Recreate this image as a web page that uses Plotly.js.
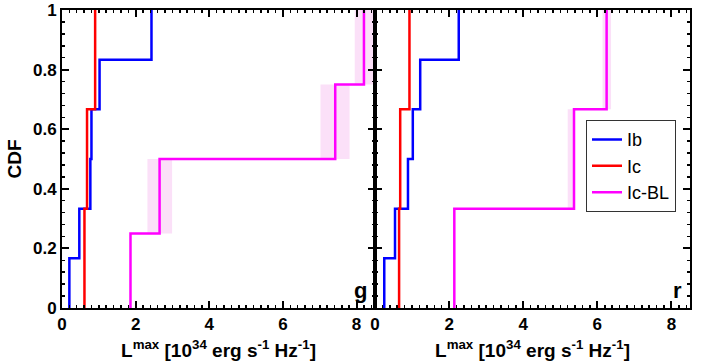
<!DOCTYPE html>
<html>
<head>
<meta charset="utf-8">
<script src="https://cdn.plot.ly/plotly-3.0.1.min.js"></script>
<style>
  html, body { margin: 0; padding: 0; background: #fff; }
  #chart { width: 708px; height: 361px; }
</style>
</head>
<body>
<div id="chart"></div>
<script>
// CDF of peak luminosity, g band (left) and r band (right)

// g band: sorted L_max values and CDF levels
var gIb = [0.20, 0.47, 0.77, 0.80, 1.02, 2.43];
var gIbCdf = [0.167, 0.333, 0.5, 0.667, 0.833, 1];
var gIc = [0.61, 0.68, 0.90];
var gIcCdf = [0.333, 0.667, 1];
var gIcBL = [1.86, 2.65, 7.42, 8.20];
var gIcBLCdf = [0.25, 0.5, 0.75, 1];

// r band
var rIb = [0.25, 0.54, 0.89, 1.02, 1.22, 2.26];
var rIbCdf = [0.167, 0.333, 0.5, 0.667, 0.833, 1];
var rIc = [0.65, 0.68, 0.93];
var rIcCdf = [0.333, 0.667, 1];
var rIcBL = [2.14, 5.37, 6.25];
var rIcBLCdf = [0.333, 0.667, 1];

// shaded uncertainty bands for Ic-BL
var gBandLo = [2.32, 7.02, 7.95];
var gBandHi = [2.99, 7.81, 8.47];
var gBandY0 = [0.25, 0.5, 0.75];
var gBandY1 = [0.5, 0.75, 1];
var rBandLo = [5.20, 6.14];
var rBandHi = [5.37, 6.37];
var rBandY0 = [0.333, 0.667];
var rBandY1 = [0.667, 1];

var names = ["Ib", "Ic", "Ic-BL"];
var colors = ["#0000ff", "#ff0000", "#ff00ff"];

function stepTrace(vals, cdf, idx, xa, ya, showleg) {
    // start the step at zero on the first value
    var x = [vals[0]].concat(vals);
    var y = [0].concat(cdf);
    return {
        x: x, y: y, xaxis: xa, yaxis: ya,
        type: "scatter", mode: "lines",
        line: { color: colors[idx], width: 2.5, shape: "hv" },
        name: names[idx], showlegend: showleg
    };
}

var data = [
    stepTrace(gIb, gIbCdf, 0, "x", "y", false),
    stepTrace(gIc, gIcCdf, 1, "x", "y", false),
    stepTrace(gIcBL, gIcBLCdf, 2, "x", "y", false),
    stepTrace(rIb, rIbCdf, 0, "x2", "y2", true),
    stepTrace(rIc, rIcCdf, 1, "x2", "y2", true),
    stepTrace(rIcBL, rIcBLCdf, 2, "x2", "y2", true)
];

var shapes = [];
function addBands(lo, hi, y0, y1, xr, yr) {
    for (var i = 0; i < lo.length; i++) {
        shapes.push({
            type: "rect", xref: xr, yref: yr, layer: "below",
            x0: lo[i], x1: hi[i], y0: y0[i], y1: y1[i],
            fillcolor: "#fbe0f8", line: { width: 0 }
        });
    }
}
addBands(gBandLo, gBandHi, gBandY0, gBandY1, "x", "y");
addBands(rBandLo, rBandHi, rBandY0, rBandY1, "x2", "y2");

var fam = "Liberation Sans, Arial, sans-serif";
var tickFont = { family: fam, size: 17, color: "#000", weight: "bold" };
var titleFont = { family: fam, size: 19, color: "#000", weight: "bold" };
var xTitle = "L<sup>max</sup> [10<sup>34</sup> erg s<sup>-1</sup> Hz<sup>-1</sup>]";

function xAxis(domain, anchor) {
    return {
        domain: domain, anchor: anchor, range: [0, 8.5],
        tickvals: [0, 2, 4, 6, 8], ticks: "inside", ticklen: 7, tickwidth: 2,
        minor: { dtick: 0.2, ticks: "inside", ticklen: 3, tickwidth: 1.5, tickcolor: "#000" },
        showline: true, linecolor: "#000", linewidth: 2, mirror: "ticks",
        showgrid: false, zeroline: false, tickfont: tickFont, tickcolor: "#000",
        title: { text: xTitle, font: titleFont, standoff: 10 },
        automargin: false
    };
}

function yAxis(anchor, labels) {
    return {
        domain: [0, 1], anchor: anchor, range: [0, 1],
        tickvals: [0, 0.2, 0.4, 0.6, 0.8, 1], ticktext: ["0", "0.2", "0.4", "0.6", "0.8", "1"],
        showticklabels: labels,
        ticks: "inside", ticklen: 7, tickwidth: 2,
        minor: { dtick: 0.04, ticks: "inside", ticklen: 3, tickwidth: 1.5, tickcolor: "#000" },
        showline: true, linecolor: "#000", linewidth: 2, mirror: "ticks",
        showgrid: false, zeroline: false, tickfont: tickFont, tickcolor: "#000",
        title: labels ? { text: "CDF", font: titleFont, standoff: 6 } : { text: "" },
        automargin: false
    };
}

var layout = {
    width: 708, height: 361,
    margin: { l: 0, r: 0, t: 10, b: 53 },
    paper_bgcolor: "#fff", plot_bgcolor: "#fff",
    xaxis: xAxis([62 / 708, 375 / 708], "y"),
    yaxis: yAxis("x", true),
    xaxis2: xAxis([375 / 708, 690 / 708], "y2"),
    yaxis2: yAxis("x2", false),
    shapes: shapes,
    showlegend: true,
    legend: {
        x: 586 / 708, y: 0.63, xanchor: "left", yanchor: "top",
        bgcolor: "#fff", bordercolor: "#333", borderwidth: 1,
        font: { family: fam, size: 18, color: "#000" },
        tracegroupgap: 0, itemwidth: 30
    },
    annotations: [
        { text: "g", xref: "x", yref: "y", x: 8.35, y: 0.01, xanchor: "right", yanchor: "bottom",
          showarrow: false, font: { family: fam, size: 22, color: "#000", weight: "bold" } },
        { text: "r", xref: "x2", yref: "y2", x: 8.35, y: 0.01, xanchor: "right", yanchor: "bottom",
          showarrow: false, font: { family: fam, size: 22, color: "#000", weight: "bold" } }
    ]
};

Plotly.newPlot("chart", data, layout, { staticPlot: true });
</script>
</body>
</html>
